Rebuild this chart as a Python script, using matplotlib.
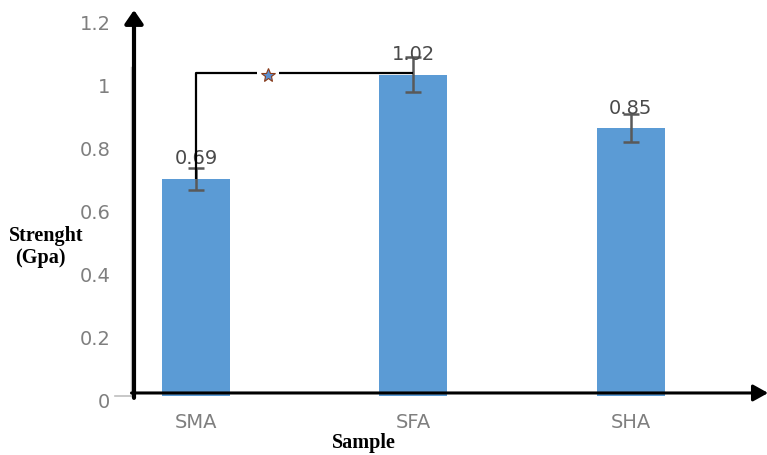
import matplotlib
matplotlib.use("Agg")
import matplotlib.pyplot as plt
from matplotlib.transforms import ScaledTranslation

# Tensile strength per sample
samples = ["SMA", "SFA", "SHA"]
strength = [0.69, 1.02, 0.85]
strength_err = [0.035, 0.055, 0.045]
value_labels = ["0.69", "1.02", "0.85"]
y_ticks = [0, 0.2, 0.4, 0.6, 0.8, 1.0, 1.2]
y_tick_labels = ["0", "0.2", "0.4", "0.6", "0.8", "1", "1.2"]
bracket_pair = (0, 1)
bracket_level = 1.024
star_pos = 0.33

W, H = 767, 455
fig = plt.figure(figsize=(W / 100, H / 100), dpi=100)
fig.patch.set_facecolor("white")

# axes box in pixels: x 134..760, y 18..396 (data 0 at 396)
ax = fig.add_axes([134 / W, (H - 396) / H, (760 - 134) / W, (396 - 18) / H])
ax.set_xlim(-0.285, 2.595)
ax.set_ylim(0, 1.2)
for s in ax.spines.values():
    s.set_visible(False)
ax.set_facecolor("none")

x = list(range(len(samples)))
ax.bar(x, strength, width=0.313, color="#5B9BD5", zorder=2)
ax.errorbar(x, strength, yerr=strength_err, fmt="none", ecolor="#595959",
            elinewidth=1.8, capsize=6, capthick=1.8, zorder=3)

# value labels above bars
for xi, v, lab in zip(x, strength, value_labels):
    ax.text(xi, v + 0.063, lab, ha="center", va="center", fontsize=14,
            color="#4a4a4a", zorder=4)

# ticks
ax.set_yticks(y_ticks)
ax.set_yticklabels(y_tick_labels)
ax.set_xticks(x)
ax.set_xticklabels(samples)
ax.tick_params(axis="y", length=0, pad=17, labelsize=14, labelcolor="#7f7f7f")
ax.tick_params(axis="x", length=0, pad=12, labelsize=14, labelcolor="#7f7f7f")
for lab in ax.get_yticklabels():
    lab.set_transform(lab.get_transform() + ScaledTranslation(0, -3.5 / 72, fig.dpi_scale_trans))

# short grey stub of the zero line left of the axis, and the faint original axis
ax.plot([-0.03, 0], [0, 0], color="#bfbfbf", lw=1.2, transform=ax.transAxes,
        clip_on=False, zorder=1)
ax.plot([-0.004, -0.004], [0.0, 0.87], color="#c8c8c8", lw=1.0, transform=ax.transAxes,
        clip_on=False, zorder=1)

# axes drawn as arrows
ax.annotate("", xy=(0, 1.021), xytext=(0, -0.005), xycoords="axes fraction",
            arrowprops=dict(arrowstyle="-|>,head_length=0.8,head_width=0.55",
                            lw=3, color="black", shrinkA=0, shrinkB=0),
            annotation_clip=False, zorder=5)
ax.annotate("", xy=(1.013, 0.008), xytext=(-0.004, 0.008), xycoords="axes fraction",
            arrowprops=dict(arrowstyle="-|>,head_length=0.9,head_width=0.5",
                            lw=2.2, color="black", shrinkA=0, shrinkB=0),
            annotation_clip=False, zorder=5)

# significance bracket between SMA and SFA
x0, x1 = bracket_pair
gap = 0.05
ax.plot([x0, x0, star_pos - gap], [strength[x0], bracket_level, bracket_level],
        color="black", lw=1.6, zorder=4, solid_capstyle="butt")
ax.plot([star_pos + gap, x1], [bracket_level, bracket_level],
        color="black", lw=1.6, zorder=4, solid_capstyle="butt")
ax.plot([star_pos], [bracket_level - 0.004], marker="*", markersize=10,
        markerfacecolor="#5b8fd0", markeredgecolor="#8a3b1a", markeredgewidth=0.8,
        zorder=5)

# axis titles
fig.text(9 / W, 1 - 236 / H, "Strenght", fontsize=14.5, fontweight="bold",
         family="Liberation Serif", ha="left", va="center", color="black")
fig.text(15 / W, 1 - 258 / H, "(Gpa)", fontsize=14.5, fontweight="bold",
         family="Liberation Serif", ha="left", va="center", color="black")
fig.text(364 / W, 1 - 443 / H, "Sample", fontsize=14.5, fontweight="bold",
         family="Liberation Serif", ha="center", va="center", color="black")

fig.savefig("out.png", dpi=100, facecolor="white")
